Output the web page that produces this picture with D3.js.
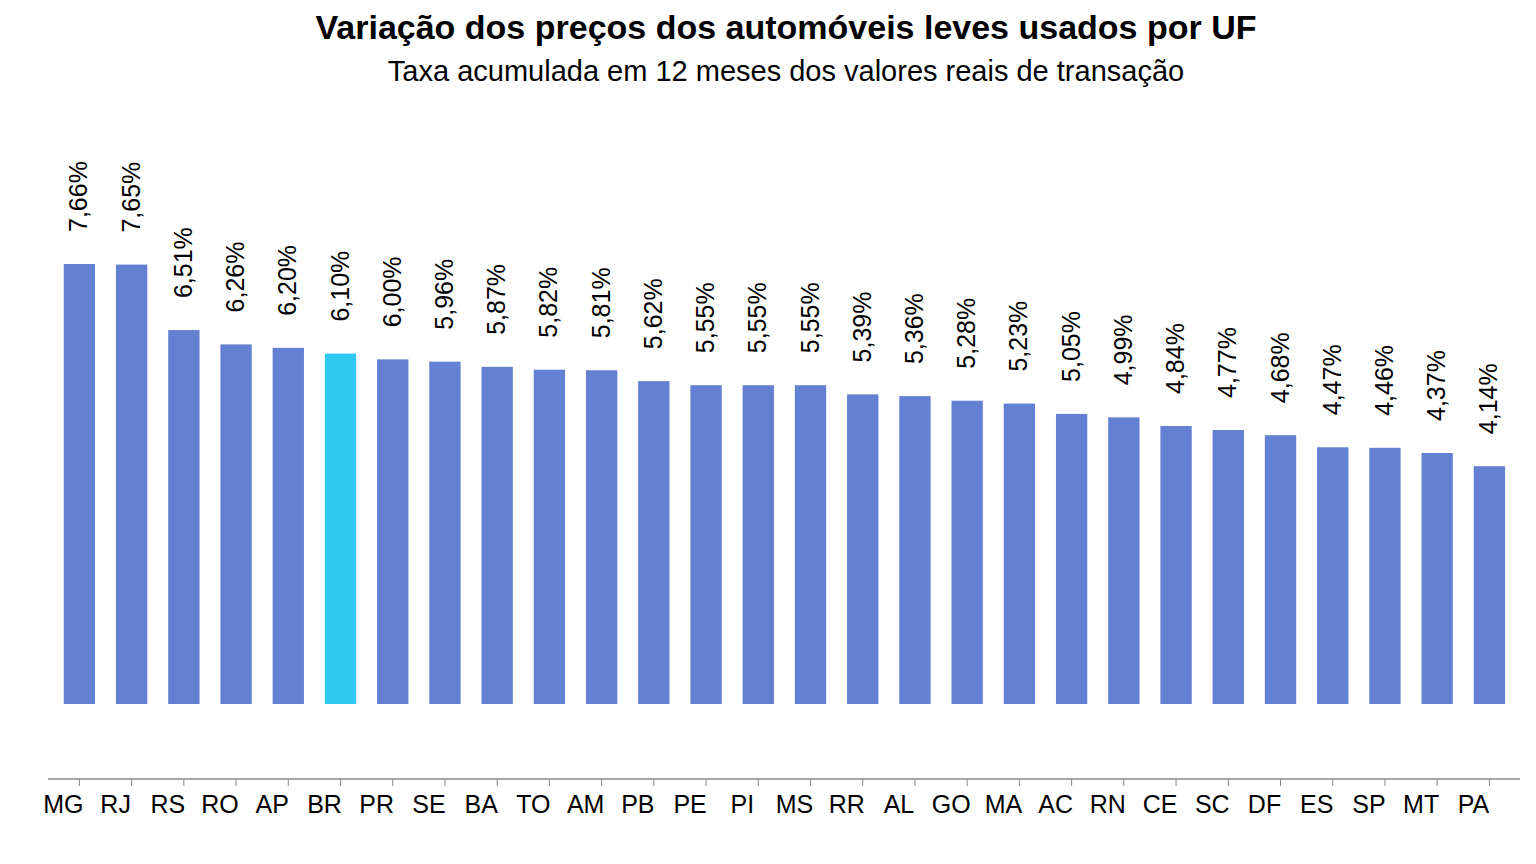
<!DOCTYPE html>
<html><head><meta charset="utf-8">
<script src="https://cdn.jsdelivr.net/npm/d3@7"></script>
<style>body{margin:0;background:#fff;font-family:"Liberation Sans",Arial,sans-serif;}</style>
</head><body>
<script>
// data
var ufs = ["MG","RJ","RS","RO","AP","BR","PR","SE","BA","TO","AM","PB","PE","PI","MS","RR","AL","GO","MA","AC","RN","CE","SC","DF","ES","SP","MT","PA"];
var taxas = [7.66,7.65,6.51,6.26,6.20,6.10,6.00,5.96,5.87,5.82,5.81,5.62,5.55,5.55,5.55,5.39,5.36,5.28,5.23,5.05,4.99,4.84,4.77,4.68,4.47,4.46,4.37,4.14];

var width = 1536, height = 864;
var svg = d3.select("body").append("svg").attr("width", width).attr("height", height)
    .style("font-family", "'Liberation Sans', Arial, sans-serif");

var x = d3.scaleBand().domain(ufs).range([53.3, 1515.5]).paddingInner(0.4).paddingOuter(0.2);
var y = d3.scaleLinear().domain([0, 7.66]).range([704, 264]);

svg.append("text").attr("x", 786).attr("y", 39).attr("text-anchor", "middle")
    .style("font-size", "34px").style("font-weight", "bold")
    .text("Variação dos preços dos automóveis leves usados por UF");
svg.append("text").attr("x", 786).attr("y", 81).attr("text-anchor", "middle")
    .style("font-size", "29px")
    .text("Taxa acumulada em 12 meses dos valores reais de transação");

svg.selectAll(".bar").data(ufs).enter().append("rect")
    .attr("x", function(d){ return x(d); })
    .attr("width", x.bandwidth())
    .attr("y", function(d, i){ return y(taxas[i]); })
    .attr("height", function(d, i){ return y(0) - y(taxas[i]); })
    .attr("fill", function(d){ return d == "BR" ? "#2ec8f0" : "#6480d3"; });

svg.selectAll(".lbl").data(ufs).enter().append("text")
    .attr("transform", function(d, i){
        return "translate(" + (x(d) + x.bandwidth()/2 + 8) + "," + (y(taxas[i]) - 32) + ") rotate(-90)";
    })
    .style("font-size", "25px")
    .text(function(d, i){ return taxas[i].toFixed(2).replace(".", ",") + "%"; });

// axis
svg.append("line").attr("x1", 48).attr("x2", 1520).attr("y1", 779).attr("y2", 779)
    .attr("stroke", "#888").attr("stroke-width", 1.5);
svg.selectAll(".tick").data(ufs).enter().append("line")
    .attr("x1", function(d){ return x(d) + x.bandwidth()/2; })
    .attr("x2", function(d){ return x(d) + x.bandwidth()/2; })
    .attr("y1", 779).attr("y2", 786).attr("stroke", "#888");
svg.selectAll(".cat").data(ufs).enter().append("text")
    .attr("x", function(d){ return x(d) + x.bandwidth()/2 - 16; })
    .attr("y", 813).attr("text-anchor", "middle")
    .style("font-size", "25px")
    .text(function(d){ return d; });
</script>
</body></html>
